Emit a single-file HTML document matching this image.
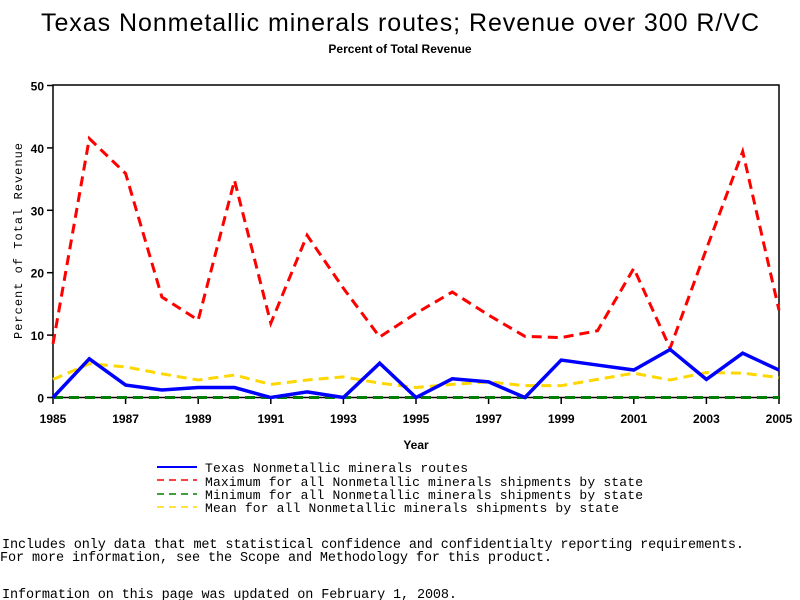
<!DOCTYPE html>
<html><head><meta charset="utf-8"><style>
body{margin:0;background:#fff;}
svg{display:block;font-family:"Liberation Sans",sans-serif;}
.m{font-family:"Liberation Mono",monospace;}
</style></head><body>
<svg id="chart" width="800" height="600" viewBox="0 0 800 600">
<text x="400" y="31" text-anchor="middle" font-size="25" textLength="718">Texas Nonmetallic minerals routes; Revenue over 300 R/VC</text>
<text x="400" y="53" text-anchor="middle" font-size="12" font-weight="bold">Percent of Total Revenue</text>
<rect x="53" y="85" width="726" height="312.5" fill="none" stroke="#000" stroke-width="1.5"/>
<g id="axes"></g>
<g id="series"></g>
<text x="416" y="449" text-anchor="middle" font-size="12" font-weight="bold">Year</text>
<text transform="translate(22,241) rotate(-90)" text-anchor="middle" font-size="12" class="m" textLength="196">Percent of Total Revenue</text>
<g class="m" font-size="13">
<line x1="157" y1="467" x2="197" y2="467" stroke="#0000ff" stroke-width="2"/>
<text x="205" y="472" textLength="263">Texas Nonmetallic minerals routes</text>
<line x1="157" y1="480" x2="197" y2="480" stroke="#ff0000" stroke-width="1.5" stroke-dasharray="7,5"/>
<text x="205" y="486" textLength="438">Maximum for all Nonmetallic minerals shipments by state</text>
<line x1="157" y1="494" x2="197" y2="494" stroke="#008000" stroke-width="1.5" stroke-dasharray="7,5"/>
<text x="205" y="499" textLength="438">Minimum for all Nonmetallic minerals shipments by state</text>
<line x1="157" y1="507" x2="197" y2="507" stroke="#ffd700" stroke-width="1.5" stroke-dasharray="7,5"/>
<text x="205" y="512" textLength="414">Mean for all Nonmetallic minerals shipments by state</text>
</g>
<g class="m" font-size="13.5">
<text x="2" y="548" textLength="742">Includes only data that met statistical confidence and confidentialty reporting requirements.</text>
<text x="0" y="561" textLength="552">For more information, see the Scope and Methodology for this product.</text>
<text x="2" y="598" textLength="455">Information on this page was updated on February 1, 2008.</text>
</g>
</svg>
<script>
const years=[1985,1986,1987,1988,1989,1990,1991,1992,1993,1994,1995,1996,1997,1998,1999,2000,2001,2002,2003,2004,2005];
const texas=[0,6.2,2.0,1.2,1.6,1.6,0,0.9,0,5.5,0,3.0,2.5,0,6.0,5.2,4.4,7.7,2.9,7.1,4.4];
const maxVals=[8.6,41.5,35.9,16.1,12.4,34.8,11.9,26,17.5,9.7,13.5,16.9,13.2,9.8,9.6,10.7,20.7,7.9,23.8,39.4,14];
const minVals=[0,0,0,0,0,0,0,0,0,0,0,0,0,0,0,0,0,0,0,0,0];
const meanVals=[2.9,5.4,4.9,3.8,2.8,3.6,2.1,2.8,3.3,2.3,1.6,2.1,2.5,1.9,1.9,2.9,3.9,2.8,4.0,3.9,3.2];
const yTicks=[0,10,20,30,40,50];
const xTickLabels=[1985,1987,1989,1991,1993,1995,1997,1999,2001,2003,2005];
const NS="http://www.w3.org/2000/svg";
const X=y=>53+(y-1985)*(726/20);
const Y=v=>397.5-v*6.24;
const axes=document.getElementById('axes'),ser=document.getElementById('series');
function mk(t,a,p){const e=document.createElementNS(NS,t);for(const k in a)e.setAttribute(k,a[k]);p.appendChild(e);return e;}
yTicks.forEach(v=>{
 const l=mk('line',{x1:47,x2:53,y1:Y(v),y2:Y(v),stroke:'#000','stroke-width':1.5},axes);
 
 
 const t=mk('text',{x:44,y:Y(v)+5,'text-anchor':'end','font-size':12,'font-weight':'bold'},axes);t.textContent=v;
 
 
});
xTickLabels.forEach(v=>{
 const l=mk('line',{x1:X(v),x2:X(v),y1:397,y2:404,stroke:'#000','stroke-width':1.5},axes);
 
 
 const t=mk('text',{x:X(v),y:423,'text-anchor':'middle','font-size':12,'font-weight':'bold'},axes);t.textContent=v;
 
 
});
function line(vals,color,w,dash,name){
 const p=mk('polyline',{points:vals.map((v,i)=>X(years[i])+','+Y(v)).join(' '),fill:'none',stroke:color,'stroke-width':w,'stroke-dasharray':dash},ser);
 
 
}
line(minVals,'#008000',3,'10,6','series-minimum');
line(meanVals,'#ffd700',3,'10,6','series-mean');
line(maxVals,'#ff0000',3,'10,6','series-maximum');
line(texas,'#0000ff',3.5,'none','series-texas');
</script>
</body></html>
